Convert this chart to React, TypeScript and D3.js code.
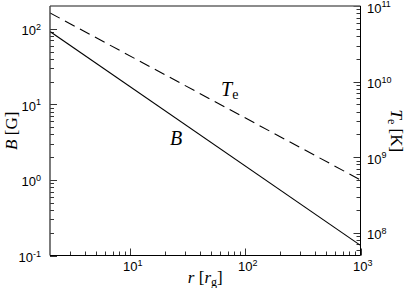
import React from "react";
import * as d3 from "d3";

// radius r [r_g]
const radius: number[] = [2, 1000];
// magnetic field B [G]
const bField: number[] = [92, 0.136];
// electron temperature T_e [K]
const tempE: number[] = [8.1e10, 5.0e8];

const xDomain: [number, number] = [2, 1000];
const bDomain: [number, number] = [0.1, 200];
const tDomain: [number, number] = [5e7, 1e11];

const xMajor: number[] = [1, 2, 3];
const bMajor: number[] = [-1, 0, 1, 2];
const tMajor: number[] = [8, 9, 10, 11];

const W = 407;
const H = 288;
const L = 50;
const R = 360.5;
const T = 6;
const B = 255.5;

function minorTicks(domain: [number, number]): number[] {
  const out: number[] = [];
  const lo = Math.floor(Math.log10(domain[0]));
  const hi = Math.ceil(Math.log10(domain[1]));
  for (let e = lo; e <= hi; e++) {
    for (let m = 2; m <= 9; m++) {
      const v = m * Math.pow(10, e);
      if (v > domain[0] * 1.0001 && v < domain[1] * 0.9999) out.push(v);
    }
  }
  return out;
}

export default function App() {
  const x = d3.scaleLog().domain(xDomain).range([L, R]);
  const yB = d3.scaleLog().domain(bDomain).range([B, T]);
  const yT = d3.scaleLog().domain(tDomain).range([B, T]);

  const pts = radius.map((r, i) => ({ r, b: bField[i], t: tempE[i] }));
  const lineB = d3
    .line<{ r: number; b: number; t: number }>()
    .x((d) => x(d.r))
    .y((d) => yB(d.b));
  const lineT = d3
    .line<{ r: number; b: number; t: number }>()
    .x((d) => x(d.r))
    .y((d) => yT(d.t));

  const sans = "'Liberation Sans', Arial, sans-serif";
  const serif = "'Liberation Serif', 'Times New Roman', serif";

  return (
    <svg
      width={W}
      height={H}
      style={{ position: "absolute", left: 0, top: 0, background: "#fff" }}
    >
      <defs>
        <clipPath id="plot">
          <rect x={L} y={T} width={R - L} height={B - T} />
        </clipPath>
      </defs>
      <rect x={0} y={0} width={W} height={H} fill="#fff" />

      {/* bottom ticks */}
      {minorTicks(xDomain).map((v, i) => (
        <line key={"xm" + i} x1={Math.round(x(v)) + 0.5} x2={Math.round(x(v)) + 0.5} y1={B} y2={B - 4} stroke="#000" strokeWidth={0.8} />
      ))}
      {xMajor.map((e) => (
        <line key={"xM" + e} x1={Math.round(x(Math.pow(10, e))) + 0.5} x2={Math.round(x(Math.pow(10, e))) + 0.5} y1={B} y2={B - 7} stroke="#000" strokeWidth={0.8} />
      ))}
      {/* left ticks */}
      {minorTicks(bDomain).map((v, i) => (
        <line key={"bm" + i} x1={L} x2={L + 4} y1={Math.round(yB(v)) + 0.5} y2={Math.round(yB(v)) + 0.5} stroke="#000" strokeWidth={0.8} />
      ))}
      {bMajor.map((e) => (
        <line key={"bM" + e} x1={L} x2={L + 7} y1={Math.round(yB(Math.pow(10, e))) + 0.5} y2={Math.round(yB(Math.pow(10, e))) + 0.5} stroke="#000" strokeWidth={0.8} />
      ))}
      {/* right ticks */}
      {minorTicks(tDomain).map((v, i) => (
        <line key={"tm" + i} x1={R} x2={R - 4} y1={Math.round(yT(v)) + 0.5} y2={Math.round(yT(v)) + 0.5} stroke="#000" strokeWidth={0.8} />
      ))}
      {tMajor.map((e) => (
        <line key={"tM" + e} x1={R} x2={R - 7} y1={Math.round(yT(Math.pow(10, e))) + 0.5} y2={Math.round(yT(Math.pow(10, e))) + 0.5} stroke="#000" strokeWidth={0.8} />
      ))}

      {/* curves */}
      <g clipPath="url(#plot)">
        <path d={lineB(pts) || ""} fill="none" stroke="#000" strokeWidth={1.1} />
        <path d={lineT(pts) || ""} fill="none" stroke="#000" strokeWidth={1.1} strokeDasharray="11,6" />
      </g>

      {/* frame */}
      <line x1={L} x2={R} y1={T} y2={T} stroke="#666" strokeWidth={1.6} />
      <line x1={L} x2={L} y1={T} y2={B} stroke="#444" strokeWidth={1.4} />
      <line x1={L} x2={R} y1={B} y2={B} stroke="#000" strokeWidth={1} />
      <line x1={R} x2={R} y1={T} y2={B} stroke="#000" strokeWidth={1} />

      {/* bottom tick labels */}
      {xMajor.map((e) => (
        <text key={"xl" + e} x={x(Math.pow(10, e)) - 7.5} y={271} fontFamily={sans} fontSize={13} fill="#000">
          10<tspan fontSize={9} dy={-5.5}>{e}</tspan>
        </text>
      ))}
      {/* left tick labels */}
      {bMajor.map((e) => (
        <text key={"bl" + e} x={41} y={yB(Math.pow(10, e)) + 6.5} fontFamily={sans} fontSize={13} fill="#000" textAnchor="end">
          10<tspan fontSize={9} dy={-5.5}>{e < 0 ? "-" + Math.abs(e) : e}</tspan>
        </text>
      ))}
      {/* right tick labels */}
      {tMajor.map((e) => (
        <text key={"tl" + e} x={367} y={yT(Math.pow(10, e)) + 6.5} fontFamily={sans} fontSize={13} fill="#000">
          10<tspan fontSize={9} dy={-5.5}>{e}</tspan>
        </text>
      ))}

      {/* axis titles */}
      <text x={(L + R) / 2} y={283} fontFamily={serif} fontSize={17} textAnchor="middle" fill="#000">
        <tspan fontStyle="italic">r</tspan>  [<tspan fontStyle="italic">r</tspan>
        <tspan fontSize={12} dy={3}>g</tspan>
        <tspan dy={-3}>]</tspan>
      </text>
      <text transform={`translate(17, ${(T + B) / 2}) rotate(-90)`} fontFamily={serif} fontSize={17} textAnchor="middle" fill="#000">
        <tspan fontStyle="italic">B</tspan> [G]
      </text>
      <text transform={`translate(391, ${(T + B) / 2}) rotate(90)`} fontFamily={serif} fontSize={17} textAnchor="middle" fill="#000">
        <tspan fontStyle="italic">T</tspan>
        <tspan fontSize={12} dy={3}>e</tspan>
        <tspan dy={-3}> [K]</tspan>
      </text>

      {/* inline labels */}
      <text x={221} y={96} fontFamily={serif} fontSize={20} fill="#000">
        <tspan fontStyle="italic">T</tspan>
        <tspan fontSize={14} dy={3}>e</tspan>
      </text>
      <text x={170} y={145} fontFamily={serif} fontSize={20} fontStyle="italic" fill="#000">
        B
      </text>
    </svg>
  );
}
